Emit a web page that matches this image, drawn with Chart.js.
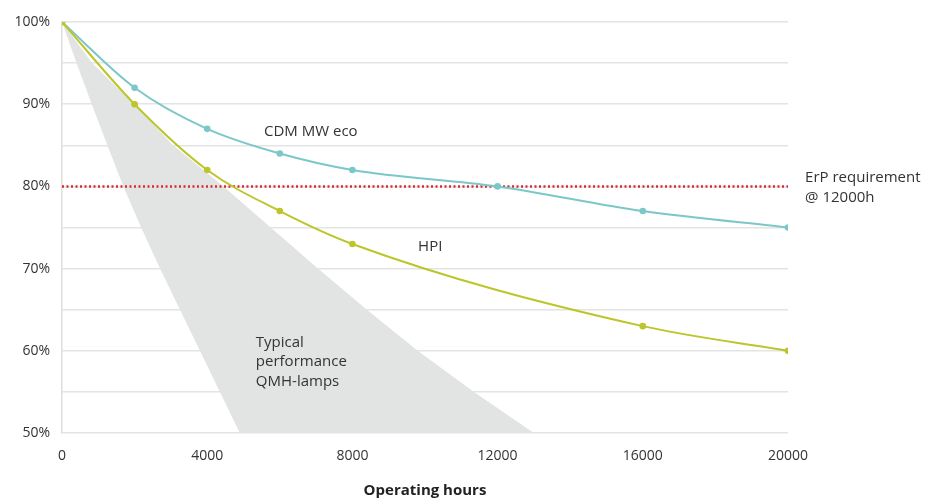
<!DOCTYPE html>
<html>
<head>
<meta charset="utf-8">
<script src="https://cdn.jsdelivr.net/npm/chart.js@4/dist/chart.umd.min.js"></script>
<style>
  html, body { margin: 0; padding: 0; background: #ffffff; }
  #wrap { width: 934px; height: 500px; position: relative; }
</style>
</head>
<body>
<div id="wrap"><canvas id="c" width="934" height="500"></canvas></div>
<script>
// ---- Data ----
const cdmHours = [0, 2000, 4000, 6000, 8000, 12000, 16000, 20000];
const cdmValues = [100, 92, 87, 84, 82, 80, 77, 75];

const hpiHours = [0, 2000, 4000, 6000, 8000, 16000, 20000];
const hpiValues = [100, 90, 82, 77, 73, 63, 60];

// Band "Typical performance QMH-lamps": upper (right) and lower (left) edges
const qmhUpperHours = [0, 830, 1980, 3060, 4450, 5750, 7050, 8400, 9800, 11350, 13000];
const qmhUpperValues = [100, 95, 90, 85, 80, 75, 70, 65, 60, 55, 50];
const qmhLowerHours = [0, 400, 820, 1250, 1690, 2180, 2700, 3250, 3800, 4350, 4900];
const qmhLowerValues = [100, 95, 90, 85, 80, 75, 70, 65, 60, 55, 50];

const erpRequirement = 80;   // % at 12000h
const xTickValues = [0, 4000, 8000, 12000, 16000, 20000];
const yLabelValues = [50, 60, 70, 80, 90, 100];

// ---- Build library structures ----
const toXY = (xs, ys) => xs.map((x, i) => ({ x: x, y: ys[i] }));
const qmhShape = toXY(qmhUpperHours, qmhUpperValues)
  .concat(toXY(qmhLowerHours, qmhLowerValues).reverse());
const erpLine = [{ x: 0, y: erpRequirement }, { x: 20000, y: erpRequirement }];

const FONT = '"Open Sans", "Noto Sans", sans-serif';
const TEXT = '#333333';

const annotations = [
  { lines: ['CDM MW eco'], x: 5565, y: 86.7 },
  { lines: ['HPI'], x: 9810, y: 72.7 },
  { lines: ['Typical', 'performance', 'QMH-lamps'], x: 5340, y: 61.0 },
  { lines: ['ErP requirement', '@ 12000h'], x: 20470, y: 81.0 }
];

const labelPlugin = {
  id: 'labels',
  afterDraw(chart) {
    const ctx = chart.ctx;
    const xs = chart.scales.x, ys = chart.scales.y;
    ctx.save();
    ctx.font = '15px ' + FONT;
    ctx.fillStyle = TEXT;
    ctx.textAlign = 'left';
    ctx.textBaseline = 'middle';
    annotations.forEach(a => {
      const px = xs.getPixelForValue(a.x);
      const py = ys.getPixelForValue(a.y);
      a.lines.forEach((t, i) => ctx.fillText(t, px, py + i * 19.5));
    });
    ctx.restore();
  }
};

new Chart(document.getElementById('c'), {
  type: 'line',
  data: {
    datasets: [
      {
        label: 'HPI',
        data: toXY(hpiHours, hpiValues),
        borderColor: '#bcc52a',
        backgroundColor: '#bcc52a',
        borderWidth: 2,
        pointRadius: 3.3,
        pointBorderWidth: 0,
        cubicInterpolationMode: 'monotone',
        fill: false
      },
      {
        label: 'CDM MW eco',
        data: toXY(cdmHours, cdmValues),
        borderColor: '#7cc7c8',
        backgroundColor: '#7cc7c8',
        borderWidth: 2,
        pointRadius: 3.3,
        pointBorderWidth: 0,
        cubicInterpolationMode: 'monotone',
        fill: false
      },
      {
        label: 'ErP requirement',
        data: erpLine,
        borderColor: '#d92a31',
        borderWidth: 2.5,
        borderDash: [2, 2.5],
        pointRadius: 0,
        fill: false
      },
      {
        label: 'Typical performance QMH-lamps',
        data: qmhShape,
        borderWidth: 0,
        borderColor: 'rgba(0,0,0,0)',
        backgroundColor: '#e2e4e4',
        pointRadius: 0,
        tension: 0,
        fill: 'shape'
      }
    ]
  },
  options: {
    responsive: false,
    animation: false,
    events: [],
    layout: { padding: { top: 22, right: 146, bottom: 0, left: 0 } },
    plugins: {
      legend: { display: false },
      tooltip: { enabled: false }
    },
    scales: {
      x: {
        type: 'linear',
        min: 0,
        max: 20000,
        afterBuildTicks(scale) { scale.ticks = xTickValues.map(v => ({ value: v })); },
        afterFit(scale) { scale.height = 67; },
        grid: { display: false, drawTicks: false },
        border: { display: false },
        ticks: {
          padding: 15,
          color: TEXT,
          font: { family: FONT, size: 14 },
          maxRotation: 0,
          callback: v => String(v)
        },
        title: {
          display: true,
          text: 'Operating hours',
          color: '#222222',
          font: { family: FONT, size: 15, weight: 'bold' },
          padding: { top: 0, bottom: 0 }
        }
      },
      y: {
        min: 50,
        max: 100,
        afterFit(scale) { scale.width = 62; },
        grid: { color: '#e4e4e4', lineWidth: 1.5, drawTicks: false },
        border: { display: true, color: '#dedede', width: 1.5 },
        ticks: {
          stepSize: 5,
          padding: 12,
          color: TEXT,
          font: { family: FONT, size: 14 },
          callback: v => (yLabelValues.includes(v) ? v + '%' : '')
        }
      }
    }
  },
  plugins: [labelPlugin]
});
</script>
</body>
</html>
